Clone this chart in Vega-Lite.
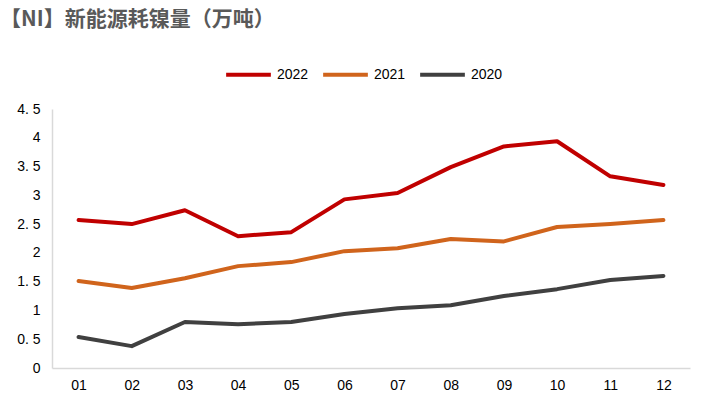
{
  "$schema": "https://vega.github.io/schema/vega-lite/v6.json",
  "autosize": "none",
  "width": 638,
  "height": 259,
  "padding": {"left": 52, "top": 109, "right": 21, "bottom": 48},
  "background": "white",
  "title": {
    "text": "【NI】新能源耗镍量（万吨）",
    "anchor": "start",
    "frame": "group",
    "dx": -52,
    "offset": 20,
    "font": "Noto Sans CJK SC",
    "fontSize": 21,
    "fontWeight": "bold",
    "color": "#595959"
  },
  "data": {
    "values": [
      {"month": "01", "year": "2022", "value": 2.57},
      {"month": "02", "year": "2022", "value": 2.50},
      {"month": "03", "year": "2022", "value": 2.74},
      {"month": "04", "year": "2022", "value": 2.29},
      {"month": "05", "year": "2022", "value": 2.36},
      {"month": "06", "year": "2022", "value": 2.93},
      {"month": "07", "year": "2022", "value": 3.04},
      {"month": "08", "year": "2022", "value": 3.49},
      {"month": "09", "year": "2022", "value": 3.85},
      {"month": "10", "year": "2022", "value": 3.94},
      {"month": "11", "year": "2022", "value": 3.33},
      {"month": "12", "year": "2022", "value": 3.18},
      {"month": "01", "year": "2021", "value": 1.51},
      {"month": "02", "year": "2021", "value": 1.39},
      {"month": "03", "year": "2021", "value": 1.56},
      {"month": "04", "year": "2021", "value": 1.77},
      {"month": "05", "year": "2021", "value": 1.84},
      {"month": "06", "year": "2021", "value": 2.03},
      {"month": "07", "year": "2021", "value": 2.08},
      {"month": "08", "year": "2021", "value": 2.24},
      {"month": "09", "year": "2021", "value": 2.20},
      {"month": "10", "year": "2021", "value": 2.45},
      {"month": "11", "year": "2021", "value": 2.50},
      {"month": "12", "year": "2021", "value": 2.57},
      {"month": "01", "year": "2020", "value": 0.54},
      {"month": "02", "year": "2020", "value": 0.38},
      {"month": "03", "year": "2020", "value": 0.80},
      {"month": "04", "year": "2020", "value": 0.76},
      {"month": "05", "year": "2020", "value": 0.80},
      {"month": "06", "year": "2020", "value": 0.94},
      {"month": "07", "year": "2020", "value": 1.04},
      {"month": "08", "year": "2020", "value": 1.09},
      {"month": "09", "year": "2020", "value": 1.25},
      {"month": "10", "year": "2020", "value": 1.37},
      {"month": "11", "year": "2020", "value": 1.53},
      {"month": "12", "year": "2020", "value": 1.60}
    ]
  },
  "mark": {"type": "line", "strokeWidth": 4, "strokeCap": "round", "strokeJoin": "round"},
  "encoding": {
    "x": {
      "field": "month",
      "type": "ordinal",
      "scale": {"type": "point", "padding": 0.5},
      "axis": {
        "title": null,
        "labelAngle": 0,
        "ticks": false,
        "domainColor": "#d9d9d9",
        "domainWidth": 1.5,
        "labelFont": "Liberation Sans",
        "labelFontSize": 14,
        "labelColor": "#000000",
        "labelPadding": 10
      }
    },
    "y": {
      "field": "value",
      "type": "quantitative",
      "scale": {"domain": [0, 4.5], "nice": false},
      "axis": {
        "title": null,
        "values": [0, 0.5, 1, 1.5, 2, 2.5, 3, 3.5, 4, 4.5],
        "labelExpr": "replace(toString(datum.value), '.', '. ')",
        "grid": false,
        "ticks": false,
        "domainColor": "#d9d9d9",
        "domainWidth": 1.5,
        "labelFont": "Liberation Sans",
        "labelFontSize": 14,
        "labelColor": "#000000",
        "labelPadding": 12
      }
    },
    "color": {
      "field": "year",
      "type": "nominal",
      "scale": {"domain": ["2022", "2021", "2020"], "range": ["#C00000", "#D0641C", "#404040"]},
      "legend": {
        "title": null,
        "orient": "none",
        "direction": "horizontal",
        "legendX": 172,
        "legendY": -59,
        "symbolType": "stroke",
        "symbolSize": 2000,
        "symbolStrokeWidth": 4,
        "labelFont": "Liberation Sans",
        "labelFontSize": 14,
        "labelColor": "#000000",
        "columnPadding": 6,
        "labelOffset": 4
      }
    }
  },
  "config": {"view": {"stroke": null}}
}
